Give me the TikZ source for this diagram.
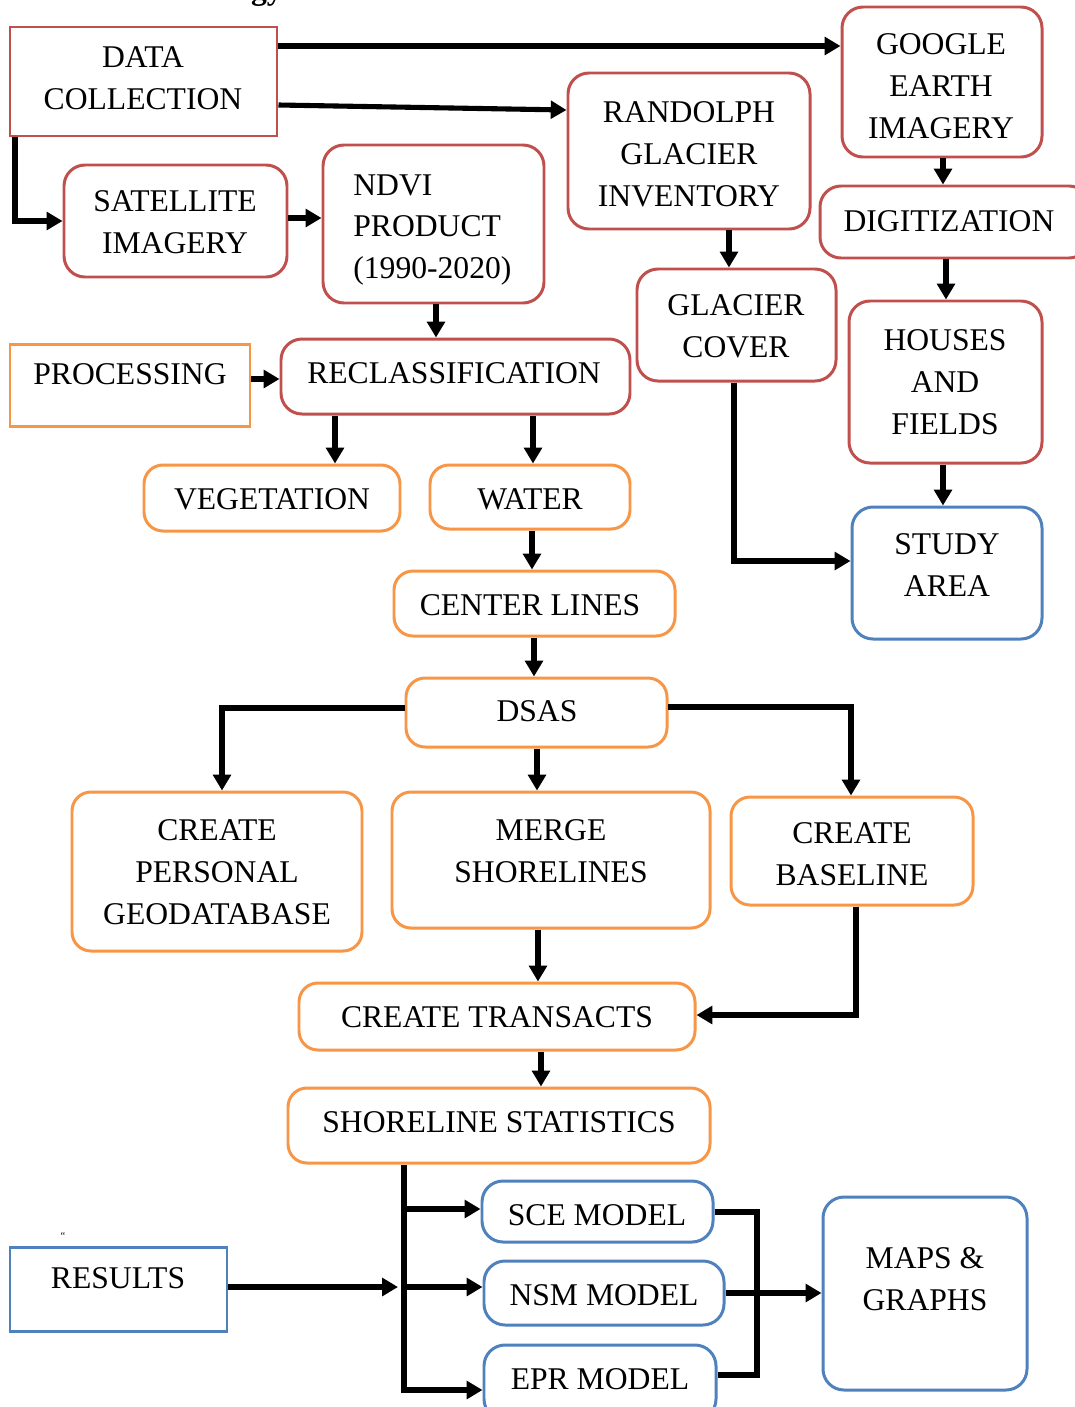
\documentclass[tikz,border=0pt]{standalone}
\usepackage{fontspec}
\setmainfont{Liberation Serif}
\usetikzlibrary{arrows.meta,fit}
\definecolor{cred}{HTML}{C0504D}
\definecolor{corange}{HTML}{F79646}
\definecolor{cblue}{HTML}{4F81BD}
\tikzset{
  boxbase/.style={draw, line width=1.7pt, inner sep=0pt, fill=none},
  rr/.style={boxbase, rounded corners=0.42cm, draw=cred},
  rs/.style={boxbase, draw=cred},
  orr/.style={boxbase, rounded corners=0.38cm, draw=corange},
  os/.style={boxbase, draw=corange},
  brr/.style={boxbase, rounded corners=0.42cm, draw=cblue},
  bs/.style={boxbase, draw=cblue},
  txt/.style={align=center, inner sep=0pt, font=\fontsize{18}{23.8}\selectfont},
  arr/.style={line width=2.9pt, -{Triangle[length=9pt,width=10pt]}},
  plain/.style={line width=2.9pt}
}
\newcommand\mybox[6]{\node[#1, fit={(#3,#4) (#5,#6)}] (#2) {};}
\begin{document}
\begin{tikzpicture}[x=0.02cm,y=-0.02cm]
\useasboundingbox (0,0) rectangle (1075,1407);
\fill[white] (0,0) rectangle (1075,1407);
% partial title at top (cut off by the page edge, as in the reference)
\node[anchor=base east, font=\fontsize{18}{22}\selectfont\bfseries, inner sep=0pt] (ttl) at (283,-1) {gy};
% boxes
\mybox{rs}{dc}{10}{27}{277}{136}
\mybox{rr}{ge}{842}{7}{1042}{157}
\mybox{rr}{rgi}{568}{73}{810}{229}
\mybox{rr}{sat}{64}{165}{287}{277}
\mybox{rr}{ndvi}{323}{145}{544}{303}
\mybox{rr}{dig}{820}{186}{1090}{258}
\mybox{rr}{gc}{637}{269}{836}{381}
\mybox{rr}{hf}{849}{301}{1042}{463}
\mybox{os}{proc}{10}{344}{250}{426}
\mybox{rr}{rec}{281}{339}{630}{414}
\mybox{orr}{veg}{144}{465}{400}{531}
\mybox{orr}{wat}{430}{465}{630}{529}
\mybox{brr}{sa}{852}{507}{1042}{639}
\mybox{orr}{cl}{394}{571}{675}{636}
\mybox{orr}{dsas}{406}{678}{667}{747}
\mybox{orr}{cpg}{72}{792}{362}{951}
\mybox{orr}{ms}{392}{792}{710}{928}
\mybox{orr}{cb}{731}{797}{973}{905}
\mybox{orr}{ct}{299}{983}{695}{1050}
\mybox{orr}{ss}{288}{1088}{710}{1163}
\mybox{brr}{sce}{482}{1181}{713}{1242}
\mybox{brr}{nsm}{484}{1261}{724}{1325}
\mybox{brr}{epr}{484}{1345}{716}{1420}
\mybox{bs}{res}{10}{1247}{227}{1331}
\mybox{brr}{mg}{823}{1197}{1027}{1390}
% texts
\node[txt] (t-dc) at (143,78) {DATA\\COLLECTION};
\node[txt] (t-ge) at (941,86) {GOOGLE\\EARTH\\IMAGERY};
\node[txt] (t-rgi) at (689,154) {RANDOLPH\\GLACIER\\INVENTORY};
\node[txt] (t-sat) at (175,222) {SATELLITE\\IMAGERY};
\node[txt, align=left, anchor=west] (t-ndvi) at (353,230) {NDVI\\PRODUCT\\(1990-2020)};
\node[txt] (t-dig) at (949,221) {DIGITIZATION};
\node[txt] (t-gc) at (736,326) {GLACIER\\COVER};
\node[txt] (t-hf) at (945,382) {HOUSES\\AND\\FIELDS};
\node[txt] (t-proc) at (130,374) {PROCESSING};
\node[txt] (t-rec) at (454,373) {RECLASSIFICATION};
\node[txt] (t-veg) at (272,499) {VEGETATION};
\node[txt] (t-wat) at (530,499) {WATER};
\node[txt] (t-sa) at (947,565) {STUDY\\AREA};
\node[txt] (t-cl) at (530,605) {CENTER LINES};
\node[txt] (t-dsas) at (537,711) {DSAS};
\node[txt] (t-cpg) at (217,872) {CREATE\\PERSONAL\\GEODATABASE};
\node[txt] (t-ms) at (551,851) {MERGE\\SHORELINES};
\node[txt] (t-cb) at (852,854) {CREATE\\BASELINE};
\node[txt] (t-ct) at (497,1017) {CREATE TRANSACTS};
\node[txt] (t-ss) at (499,1122) {SHORELINE STATISTICS};
\node[txt] (t-sce) at (597,1215) {SCE MODEL};
\node[txt] (t-nsm) at (604,1295) {NSM MODEL};
\node[txt] (t-epr) at (600,1379) {EPR MODEL};
\node[txt] (t-res) at (118,1278) {RESULTS};
\node[txt] (t-mg) at (925,1279) {MAPS \&\\GRAPHS};
\node[inner sep=0pt, font=\fontsize{6}{7}\selectfont] (tick) at (63,1236) {``};
% junction coordinates
\coordinate (j1) at (404,1209);
\coordinate (j2) at (404,1287);
\coordinate (j0) at (398,1287);
% connectors
\draw[arr] (dc.east |- 0,46) -- (ge.west |- 0,46);
\draw[arr] (dc.east |- 0,105) -- (rgi.west |- 0,110);
\draw[arr] (dc.south -| 15,0) -- (15,221) -- (sat.west |- 0,221);
\draw[arr] (sat.east |- 0,218) -- (ndvi.west |- 0,218);
\draw[arr] (ndvi.south -| 436,0) -- (rec.north -| 436,0);
\draw[arr] (rgi.south -| 729,0) -- (gc.north -| 729,0);
\draw[arr] (ge.south -| 943,0) -- (dig.north -| 943,0);
\draw[arr] (dig.south -| 946,0) -- (hf.north -| 946,0);
\draw[arr] (hf.south -| 943,0) -- (sa.north -| 943,0);
\draw[arr] (gc.south -| 734,0) |- (sa.west |- 0,561);
\draw[arr] (proc.east |- 0,379) -- (rec.west |- 0,379);
\draw[arr] (rec.south -| 335,0) -- (veg.north -| 335,0);
\draw[arr] (rec.south -| 533,0) -- (wat.north -| 533,0);
\draw[arr] (wat.south -| 532,0) -- (cl.north -| 532,0);
\draw[arr] (cl.south -| 534,0) -- (dsas.north -| 534,0);
\draw[arr] (dsas.west |- 0,708) -| (cpg.north -| 222,0);
\draw[arr] (dsas.south -| 537,0) -- (ms.north -| 537,0);
\draw[arr] (dsas.east |- 0,707) -| (cb.north -| 851,0);
\draw[arr] (ms.south -| 538,0) -- (ct.north -| 538,0);
\draw[arr] (cb.south -| 856,0) |- (ct.east |- 0,1015);
\draw[arr] (ct.south -| 541,0) -- (ss.north -| 541,0);
\draw[arr] (ss.south -| 404,0) |- (epr.west |- 0,1390);
\draw[arr] (j1) -- (sce.west |- j1);
\draw[arr] (j2) -- (nsm.west |- j2);
\draw[arr] (res.east |- j0) -- (j0);
\draw[plain, line join=miter] (sce.east |- 0,1212) -- (757,1212) -- (757,1375) -- (epr.east |- 0,1375);
\draw[arr] (nsm.east |- 0,1293) -- (mg.west |- 0,1293);
\end{tikzpicture}
\end{document}
